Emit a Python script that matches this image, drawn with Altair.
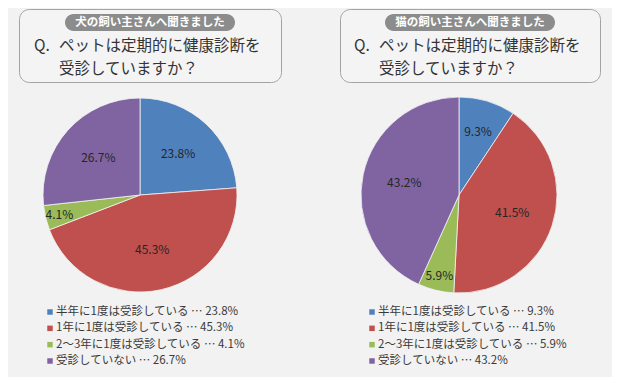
import altair as alt
import pandas as pd

categories = ["半年に1度は受診している", "1年に1度は受診している", "2～3年に1度は受診している", "受診していない"]
dog_values = [23.8, 45.3, 4.1, 26.7]
cat_values = [9.3, 41.5, 5.9, 43.2]
colors = ["#4F81BD", "#C0504D", "#9BBB59", "#8064A2"]
badges = ["犬の飼い主さんへ聞きました", "猫の飼い主さんへ聞きました"]
q_line1 = "ペットは定期的に健康診断を"
q_line2 = "受診していますか？"

FONT = "Noto Sans CJK JP"
BG = "#f2f2f2"
OFF = 8  # page margin


def pie_df(vals):
    return pd.DataFrame({
        "cat": categories,
        "order": list(range(len(categories))),
        "value": vals,
        "label": [f"{v}%" for v in vals],
        "row": list(range(len(categories))),
        "legend": [f"{c}  …  {v}%" for c, v in zip(categories, vals)],
    })


color_enc = alt.Color("cat:N", scale=alt.Scale(domain=categories, range=colors), legend=None)


def panel(vals, cx, cy, r, box_x, badge_text, q_x, legend_x):
    df = pie_df(vals)
    base = alt.Chart(df)
    box = alt.Chart(pd.DataFrame({"a": [0]})).mark_rect(
        fill="#f4f4f4", stroke="#a3a3a3", strokeWidth=1, cornerRadius=10
    ).encode(
        x=alt.value(box_x[0] - OFF + 0.5), x2=alt.value(box_x[1] - OFF + 0.5),
        y=alt.value(1.5), y2=alt.value(82 - OFF + 0.5)
    )
    bcx = (box_x[0] + box_x[1]) / 2 - OFF
    badge = alt.Chart(pd.DataFrame({"t": [badge_text]})).mark_rect(
        fill="#8c8c8c", cornerRadius=9
    ).encode(
        x=alt.value(bcx - 85), x2=alt.value(bcx + 85),
        y=alt.value(13 - OFF + 1), y2=alt.value(30 - OFF + 1)
    )
    badge_txt = alt.Chart(pd.DataFrame({"t": [badge_text]})).mark_text(
        font=FONT, fontSize=11.5, color="white", fontWeight="bold", baseline="middle", align="center"
    ).encode(x=alt.value(bcx), y=alt.value(21.5 - OFF + 1), text="t:N")
    q1 = alt.Chart(pd.DataFrame({"t": ["Q."]})).mark_text(
        font=FONT, fontSize=15.5, color="#333333", baseline="middle", align="left"
    ).encode(x=alt.value(q_x - OFF), y=alt.value(46 - OFF), text="t:N")
    q2 = alt.Chart(pd.DataFrame({"t": [q_line1]})).mark_text(
        font=FONT, fontSize=15.5, color="#333333", baseline="middle", align="left"
    ).encode(x=alt.value(q_x + 25 - OFF), y=alt.value(46 - OFF), text="t:N")
    q3 = alt.Chart(pd.DataFrame({"t": [q_line2]})).mark_text(
        font=FONT, fontSize=15.5, color="#333333", baseline="middle", align="left"
    ).encode(x=alt.value(q_x + 25 - OFF), y=alt.value(69 - OFF), text="t:N")

    arcs = base.mark_arc(outerRadius=r, stroke="#f2f2f2", strokeWidth=0.8).encode(
        theta=alt.Theta("value:Q", stack=True),
        order=alt.Order("order:Q"),
        color=color_enc,
        x=alt.value(cx - OFF), y=alt.value(cy - OFF),
    )
    labels = base.mark_text(
        font=FONT, fontSize=12, color="#262626",
        radius=alt.expr("datum.value < 7 ? 83 : (datum.value < 12 ? 66 : 56)"),
    ).encode(
        theta=alt.Theta("value:Q", stack=True),
        order=alt.Order("order:Q"),
        text="label:N",
        x=alt.value(cx - OFF), y=alt.value(cy - OFF),
    )
    yscale = alt.Scale(domain=[0, 3], range=[304, 353])
    sq = base.mark_square(size=30, opacity=1).encode(
        x=alt.value(legend_x - OFF),
        y=alt.Y("row:Q", scale=yscale, axis=None),
        color=color_enc,
    )
    ltxt = base.mark_text(font=FONT, fontSize=11.5, color="#3a3a3a", align="left", baseline="middle").encode(
        x=alt.value(legend_x + 6 - OFF),
        y=alt.Y("row:Q", scale=yscale, axis=None),
        text="legend:N",
    )
    return [box, badge, badge_txt, q1, q2, q3, arcs, labels, sq, ltxt]


layers = panel(dog_values, 140, 195, 97, (19, 281), badges[0], 34, 50) + \
    panel(cat_values, 459, 195, 98, (340, 600), badges[1], 354, 372)

chart = alt.layer(*layers).resolve_scale(theta="independent").properties(
    width=604, height=369, padding=0, background=BG,
    autosize=alt.AutoSizeParams(type="none"),
).configure_view(strokeWidth=0, fill=BG)

chart.save("out.html", embed_options={"renderer": "svg", "actions": False})
